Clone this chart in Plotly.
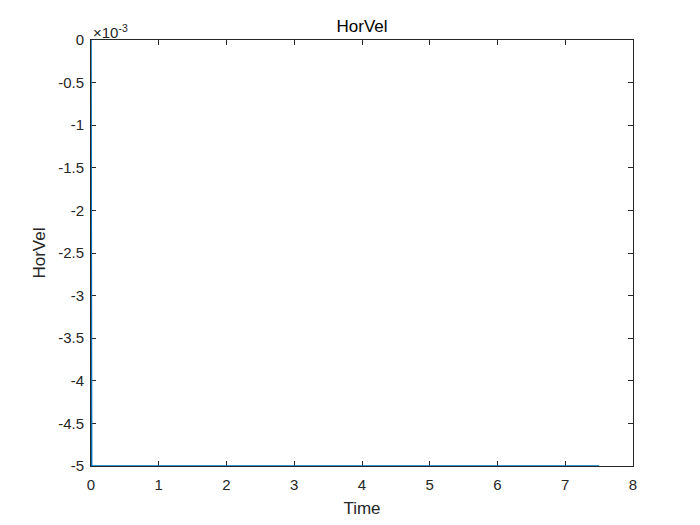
import plotly.graph_objects as go

time = [0.0, 0.01, 7.5]
horvel = [0.0, -0.005, -0.005]
x_ticks = [0, 1, 2, 3, 4, 5, 6, 7, 8]
y_ticks = [0, -0.5, -1, -1.5, -2, -2.5, -3, -3.5, -4, -4.5, -5]
y_tick_labels = ["0", "-0.5", "-1", "-1.5", "-2", "-2.5", "-3", "-3.5", "-4", "-4.5", "-5"]
scale = 1e3

fig = go.Figure()
fig.add_trace(go.Scatter(x=time, y=[v * scale for v in horvel], mode="lines",
                         line=dict(color="#0072BD", width=1.5), showlegend=False))

axis_common = dict(showgrid=False, zeroline=False, showline=True, mirror="ticks",
                   linecolor="#262626", linewidth=1, ticks="inside", ticklen=5,
                   tickcolor="#262626", layer="below traces",
                   tickfont=dict(family="Liberation Sans, Arial", size=15, color="#262626"))

# page body adds an 8px offset; margins are chosen so the plot box lands at x 91-633, y 40-466
fig.update_layout(
    width=700, height=525,
    paper_bgcolor="white", plot_bgcolor="white",
    margin=dict(l=83, r=75, t=32, b=67),
    font=dict(family="Liberation Sans, Arial", size=15, color="#262626"),
    title=dict(text="HorVel", x=(83 + 625) / 2 / 700, xanchor="center", y=1 - 18 / 525, yanchor="middle",
               font=dict(size=17, color="#000000")),
    xaxis=dict(range=[0, 8], tickvals=x_ticks, ticklabelstandoff=5,
               title=dict(text="Time", standoff=10, font=dict(size=17, color="#262626")), **axis_common),
    yaxis=dict(range=[-5, 0], tickvals=y_ticks, ticktext=y_tick_labels, ticklabelstandoff=3,
               title=dict(text="HorVel", standoff=8, font=dict(size=17, color="#262626")), **axis_common),
)

fig.add_annotation(text="×10<sup>-3</sup>", xref="paper", yref="paper", x=0, y=1,
                   xanchor="left", yanchor="bottom", showarrow=False, yshift=-3,
                   font=dict(size=15, color="#262626"))

fig.write_html("out.html")
